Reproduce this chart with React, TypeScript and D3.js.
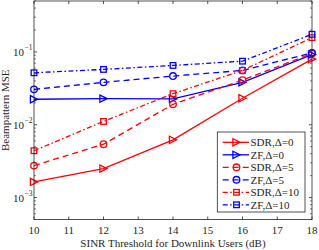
import React from "react";
import * as d3 from "d3";

const xValues = [10, 12, 14, 16, 18];
const sdr0 = [0.00164, 0.0025, 0.0062, 0.0231, 0.0795];
const zf0 = [0.0224, 0.0228, 0.0226, 0.0382, 0.092];
const sdr5 = [0.00275, 0.0054, 0.0191, 0.041, 0.095];
const zf5 = [0.0306, 0.0382, 0.0466, 0.0557, 0.097];
const sdr10 = [0.0044, 0.0111, 0.0267, 0.0557, 0.157];
const zf10 = [0.0517, 0.0575, 0.0652, 0.0746, 0.1745];
const xTicks = [10, 11, 12, 13, 14, 15, 16, 17, 18];
const yMajor = [-3, -2, -1];
const seriesNames = ["SDR,\u0394=0", "ZF,\u0394=0", "SDR,\u0394=5", "ZF,\u0394=5", "SDR,\u0394=10", "ZF,\u0394=10"];

const RED = "#ff0000";
const BLUE = "#0000ff";

type S = { name: string; vals: number[]; color: string; dash: string; marker: "tri" | "circ" | "sq" };
const series: S[] = [
  { name: seriesNames[0], vals: sdr0, color: RED, dash: "", marker: "tri" },
  { name: seriesNames[1], vals: zf0, color: BLUE, dash: "", marker: "tri" },
  { name: seriesNames[2], vals: sdr5, color: RED, dash: "6,4", marker: "circ" },
  { name: seriesNames[3], vals: zf5, color: BLUE, dash: "6,4", marker: "circ" },
  { name: seriesNames[4], vals: sdr10, color: RED, dash: "5,2.5,1.5,2.5", marker: "sq" },
  { name: seriesNames[5], vals: zf10, color: BLUE, dash: "5,2.5,1.5,2.5", marker: "sq" },
];

const L = 34, R = 312, T = 1, B = 219.5;
const FONT = "'Liberation Serif', 'Times New Roman', serif";

function Marker({ type, x, y, color }: { type: string; x: number; y: number; color: string }) {
  if (type === "tri") {
    const s = 3.6;
    return <path d={`M${x + s},${y} L${x - s},${y - s} L${x - s},${y + s} Z`} fill="none" stroke={color} strokeWidth={1.3} />;
  }
  if (type === "circ") {
    return <circle cx={x} cy={y} r={3.3} fill="none" stroke={color} strokeWidth={1.3} />;
  }
  return <rect x={x - 2.8} y={y - 2.8} width={5.6} height={5.6} fill="none" stroke={color} strokeWidth={1.3} />;
}

export default function App() {
  const x = d3.scaleLinear().domain([10, 18]).range([L, R]);
  const y = d3.scaleLog().domain([5e-4, 0.5]).range([B, T]);
  const line = d3
    .line<number>()
    .x((_, i) => x(xValues[i]))
    .y((d) => y(d));

  const minor: number[] = [];
  for (let e = -4; e <= 0; e++) {
    for (let k = 1; k <= 9; k++) {
      const v = k * Math.pow(10, e);
      if (v >= 5e-4 && v <= 0.5 && k !== 1) minor.push(v);
    }
  }

  const legX = 217.3, legY = 132, legW = 87.7, legH = 80;
  const rowY = (i: number) => 142.3 + i * 12.5;

  return (
    <svg width={319} height={250} style={{ position: "absolute", left: 0, top: 0 }} fontFamily={FONT}>
      <rect x={0} y={0} width={319} height={250} fill="#fff" />
      {/* series */}
      {series.map((s, si) => (
        <g key={si}>
          <path d={line(s.vals) || ""} fill="none" stroke={s.color} strokeWidth={1.3} strokeDasharray={s.dash || undefined} />
          {s.vals.map((v, i) => (
            <Marker key={i} type={s.marker} x={x(xValues[i])} y={y(v)} color={s.color} />
          ))}
        </g>
      ))}
      {/* axes box */}
      <rect x={L} y={T} width={R - L} height={B - T} fill="none" stroke="#262626" strokeWidth={0.8} />
      {xTicks.map((t) => (
        <g key={t}>
          <line x1={x(t)} x2={x(t)} y1={B} y2={B - 3} stroke="#262626" strokeWidth={0.8} />
          <line x1={x(t)} x2={x(t)} y1={T} y2={T + 3} stroke="#262626" strokeWidth={0.8} />
          <text x={x(t)} y={234} textAnchor="middle" fontSize={11} fill="#262626">
            {t}
          </text>
        </g>
      ))}
      {yMajor.map((e) => {
        const yy = y(Math.pow(10, e));
        return (
          <g key={e}>
            <line x1={L} x2={L + 3} y1={yy} y2={yy} stroke="#262626" strokeWidth={0.8} />
            <line x1={R} x2={R - 3} y1={yy} y2={yy} stroke="#262626" strokeWidth={0.8} />
            <text x={24} y={yy + 4} textAnchor="end" fontSize={11} fill="#262626">
              10
            </text>
            <text x={24.5} y={yy - 1.5} textAnchor="start" fontSize={7.5} fill="#262626">
              {`\u2212${-e}`}
            </text>
          </g>
        );
      })}
      {minor.map((v, i) => (
        <g key={i}>
          <line x1={L} x2={L + 1.8} y1={y(v)} y2={y(v)} stroke="#262626" strokeWidth={0.7} />
          <line x1={R} x2={R - 1.8} y1={y(v)} y2={y(v)} stroke="#262626" strokeWidth={0.7} />
        </g>
      ))}
      <text x={173} y={247} textAnchor="middle" fontSize={11} fill="#262626">
        SINR Threshold for Downlink Users (dB)
      </text>
      <text transform={`translate(9,${(T + B) / 2}) rotate(-90)`} textAnchor="middle" fontSize={11} fill="#262626">
        Beampattern MSE
      </text>
      {/* legend */}
      <rect x={legX} y={legY} width={legW} height={legH} fill="#fff" stroke="#262626" strokeWidth={0.8} />
      {series.map((s, i) => (
        <g key={i}>
          <line x1={222.7} x2={249} y1={rowY(i)} y2={rowY(i)} stroke={s.color} strokeWidth={1.3} strokeDasharray={s.dash || undefined} />
          <Marker type={s.marker} x={236.5} y={rowY(i)} color={s.color} />
          <text x={250.5} y={rowY(i) + 3.8} fontSize={11} fill="#262626">
            {s.name}
          </text>
        </g>
      ))}
    </svg>
  );
}
